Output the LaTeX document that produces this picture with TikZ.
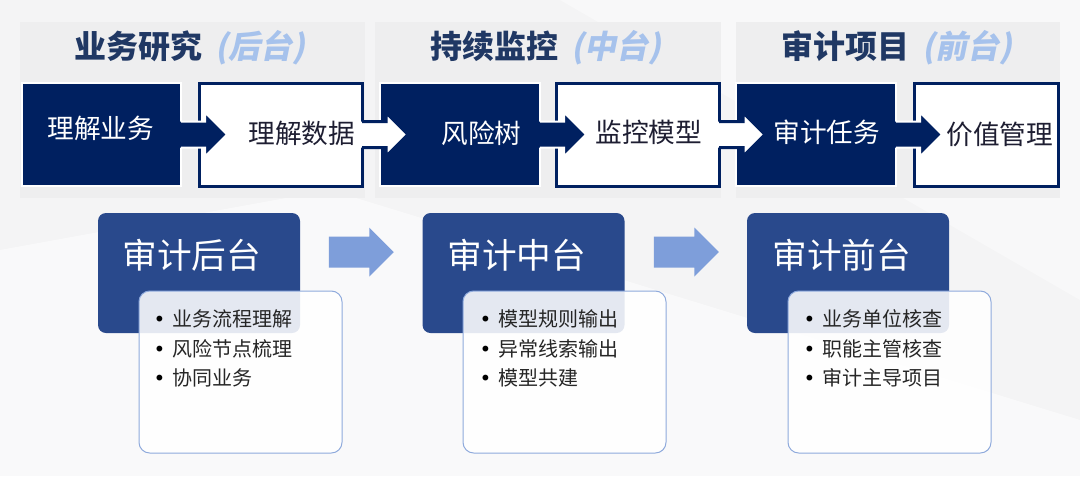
\documentclass[tikz,border=0pt]{standalone}
\usepackage{fontspec}
\setmainfont{Noto Sans CJK SC}
\newfontfamily\slantcjk{Noto Sans CJK SC}[FakeSlant=0.2]
\newfontfamily\bulletfont{DejaVu Sans}
\usetikzlibrary{shapes.arrows,calc}

\definecolor{navy}{RGB}{0,32,96}
\definecolor{titlenavy}{RGB}{32,56,100}
\definecolor{titlelight}{RGB}{166,194,236}
\definecolor{stageblue}{RGB}{41,73,140}
\definecolor{arrowblue}{RGB}{126,158,218}
\definecolor{listline}{RGB}{143,170,220}
\definecolor{listtext}{RGB}{38,38,38}
\definecolor{boxtext}{RGB}{30,30,50}
\definecolor{backgray}{RGB}{244,244,245}
\definecolor{panelgray}{RGB}{238,238,239}

\tikzset{every picture/.style={line width=0.75pt}}

\begin{document}
\begin{tikzpicture}[x=0.75pt,y=0.75pt,yscale=-1,xscale=1,
  darkbox/.style={draw=white, line width=1.5pt, fill=navy, inner sep=0pt, outer sep=0pt, minimum height=77.25pt},
  lightbox/.style={draw=navy, line width=2.25pt, fill=white, inner sep=0pt, outer sep=0pt, minimum height=77.25pt},
  toptext/.style={anchor=west, inner sep=0pt, font=\fontsize{20}{24}\selectfont},
  phasetitle/.style={anchor=west, inner sep=0pt, text=titlenavy, font=\fontsize{24}{28}\selectfont\bfseries},
  stagebox/.style={fill=stageblue, rounded corners=6pt, inner sep=0pt, minimum width=151.5pt, minimum height=90pt},
  stagetext/.style={anchor=west, inner sep=0pt, text=white, font=\fontsize{26}{30}\selectfont},
  listbox/.style={draw=listline, fill=white, fill opacity=0.88, rounded corners=8pt, inner sep=0pt, minimum width=152.25pt, minimum height=121.5pt},
  listitem/.style={anchor=west, inner sep=0pt, text=listtext, font=\fontsize{15}{18}\selectfont},
  stagearrow/.style={single arrow, fill=arrowblue, inner xsep=0pt, inner ysep=11.25pt, minimum height=48.75pt, single arrow head extend=6.75pt}
]
%set diagram to the size of the reference
\useasboundingbox (0,0) rectangle (1080,476);
\fill[backgray] (0,0) rectangle (1080,476);
%Shape: faint background planes
\fill[white, opacity=0.5] (0,250) -- (330,190) -- (1080,420) -- (1080,476) -- (0,476) -- cycle;
\fill[white, opacity=0.4] (560,0) -- (1080,0) -- (1080,300) -- cycle;

%Shape: Rectangle panels behind the phases
\fill[panelgray] (20,22) rectangle (365,198);
\fill[panelgray] (375,22) rectangle (721,198);
\fill[panelgray] (736,22) rectangle (1060,198);

% Text Node phase titles
\node[phasetitle] (p1) at (74,48) {业务研究\hspace{10pt}{\slantcjk\color{titlelight}(后台)}};
\node[phasetitle] (p2) at (430,48) {持续监控\hspace{10pt}{\slantcjk\color{titlelight}(中台)}};
\node[phasetitle] (p3) at (781,48) {审计项目\hspace{10pt}{\slantcjk\color{titlelight}(前台)}};

%Shape: Rectangle process boxes
\node[darkbox, minimum width=119.25pt] (u1) at (101.5,134.5) {};
\node[lightbox, minimum width=122.25pt] (u2) at (280.5,134.5) {};
\node[darkbox, minimum width=120pt] (u3) at (460,134.5) {};
\node[lightbox, minimum width=122.25pt] (u4) at (637.5,134.5) {};
\node[darkbox, minimum width=120pt] (u5) at (816,134.5) {};
\node[lightbox, minimum width=108pt] (u6) at (986,134.5) {};

%Shape: Arrows between the process boxes
\fill[navy] ($(u1.east)+(-2,-13)$) -- ++(26,0) -- ++(0,-9) -- ++(22,22) -- ++(-22,22) -- ++(0,-9) -- ++(-26,0) -- cycle;
\draw[white, line width=1.5pt] ($(u1.east)+(0,-13)$) -- ++(24,0) -- ++(0,-9) -- ++(22,22) -- ++(-22,22) -- ++(0,-9) -- ++(-24,0);
\fill[white] ($(u2.east)+(-2,-13)$) -- ++(26,0) -- ++(0,-9) -- ++(22,22) -- ++(-22,22) -- ++(0,-9) -- ++(-26,0) -- cycle;
\draw[navy, line width=2.25pt] ($(u2.east)+(0,-13)$) -- ++(24,0) -- ++(0,-9) -- ++(22,22) -- ++(-22,22) -- ++(0,-9) -- ++(-24,0);
\fill[navy] ($(u3.east)+(-2,-13)$) -- ++(26,0) -- ++(0,-9) -- ++(22,22) -- ++(-22,22) -- ++(0,-9) -- ++(-26,0) -- cycle;
\draw[white, line width=1.5pt] ($(u3.east)+(0,-13)$) -- ++(24,0) -- ++(0,-9) -- ++(22,22) -- ++(-22,22) -- ++(0,-9) -- ++(-24,0);
\fill[white] ($(u4.east)+(-2,-13)$) -- ++(26,0) -- ++(0,-9) -- ++(22,22) -- ++(-22,22) -- ++(0,-9) -- ++(-26,0) -- cycle;
\draw[navy, line width=2.25pt] ($(u4.east)+(0,-13)$) -- ++(24,0) -- ++(0,-9) -- ++(22,22) -- ++(-22,22) -- ++(0,-9) -- ++(-24,0);
\fill[navy] ($(u5.east)+(-2,-13)$) -- ++(26,0) -- ++(0,-9) -- ++(22,22) -- ++(-22,22) -- ++(0,-9) -- ++(-26,0) -- cycle;
\draw[white, line width=1.5pt] ($(u5.east)+(0,-13)$) -- ++(24,0) -- ++(0,-9) -- ++(22,22) -- ++(-22,22) -- ++(0,-9) -- ++(-24,0);

% Text Node process labels
\node[toptext, text=white] (t1) at (47,128) {理解业务};
\node[toptext, text=boxtext] (t2) at (248,133) {理解数据};
\node[toptext, text=white] (t3) at (441,133) {风险树};
\node[toptext, text=boxtext] (t4) at (595,132.5) {监控模型};
\node[toptext, text=white] (t5) at (773,132) {审计任务};
\node[toptext, text=boxtext] (t6) at (946,134) {价值管理};

%Shape: Rounded Rectangle stages
\node[stagebox] (s1) at (199,273) {};
\node[stagebox] (s2) at (523.5,273) {};
\node[stagebox] (s3) at (848,273) {};
\node[stagetext] (h1) at (122,255) {审计后台};
\node[stagetext] (h2) at (447,255) {审计中台};
\node[stagetext] (h3) at (772,255) {审计前台};

%Shape: Rounded Rectangle lists
\node[listbox] (l1) at (240.5,372) {};
\node[listbox] (l2) at (564.5,372) {};
\node[listbox] (l3) at (889.5,372) {};

% Text Node list items
\node[listitem] (a1) at (153,319) {\makebox[14.25pt][l]{\bulletfont\color{black}•}业务流程理解};
\node[listitem] (a2) at (153,349) {\makebox[14.25pt][l]{\bulletfont\color{black}•}风险节点梳理};
\node[listitem] (a3) at (153,378) {\makebox[14.25pt][l]{\bulletfont\color{black}•}协同业务};
\node[listitem] (b1) at (479,319) {\makebox[14.25pt][l]{\bulletfont\color{black}•}模型规则输出};
\node[listitem] (b2) at (479,349) {\makebox[14.25pt][l]{\bulletfont\color{black}•}异常线索输出};
\node[listitem] (b3) at (479,378) {\makebox[14.25pt][l]{\bulletfont\color{black}•}模型共建};
\node[listitem] (c1) at (803,319) {\makebox[14.25pt][l]{\bulletfont\color{black}•}业务单位核查};
\node[listitem] (c2) at (803,349) {\makebox[14.25pt][l]{\bulletfont\color{black}•}职能主管核查};
\node[listitem] (c3) at (803,378) {\makebox[14.25pt][l]{\bulletfont\color{black}•}审计主导项目};

%Shape: Block arrows between stages
\node[stagearrow] (r1) at (353.5,252) {};
\node[stagearrow] (r2) at (678.5,252) {};

\end{tikzpicture}
\end{document}
